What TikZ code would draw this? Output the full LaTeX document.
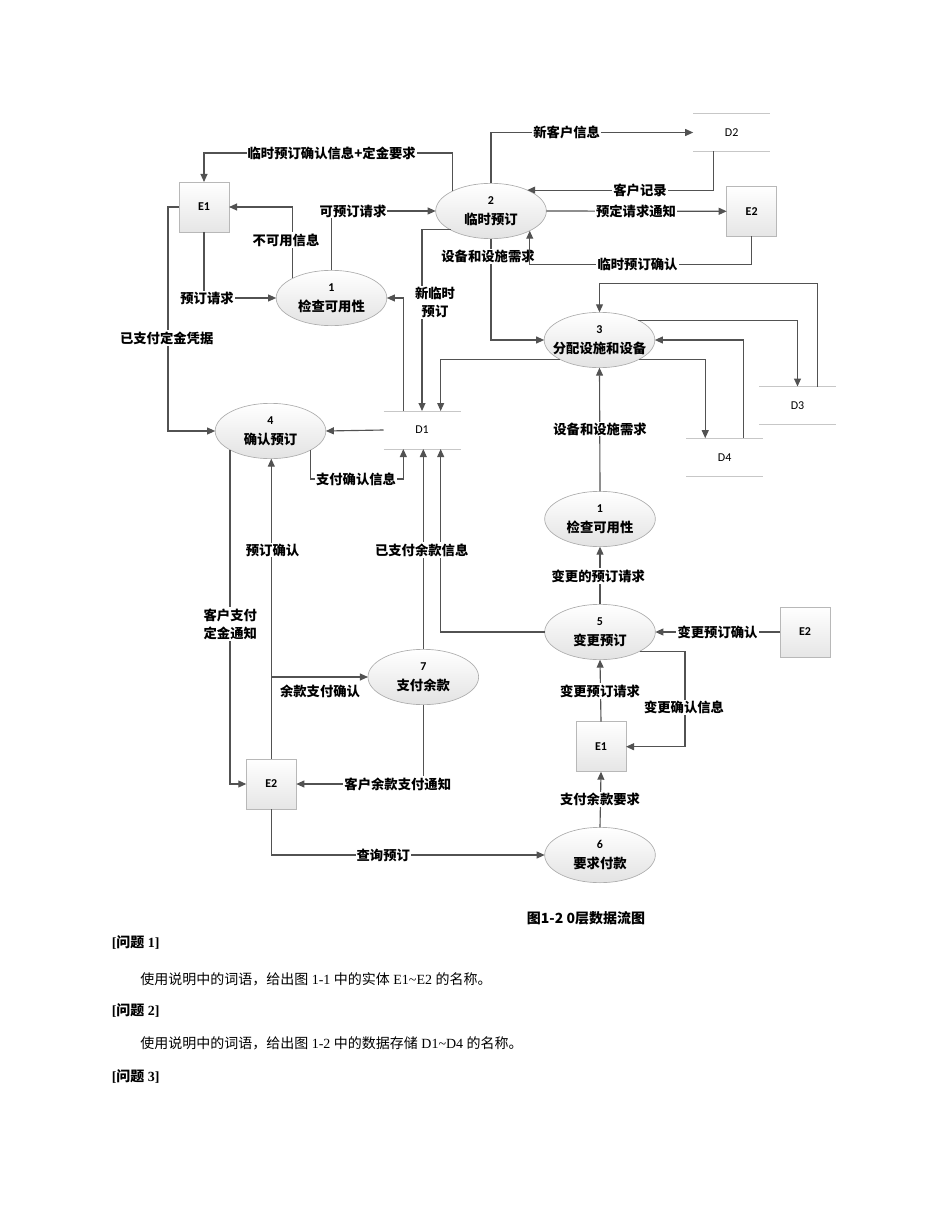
\documentclass[tikz,border=0pt]{standalone}
\usepackage{fontspec}
\setmainfont{Liberation Serif}
\newfontfamily\cjk{Noto Sans CJK SC}
\newfontfamily\calfont{Carlito}
\usetikzlibrary{shapes.geometric,arrows.meta,calc}
\tikzset{
  flow/.style={draw=black!68, line width=0.85pt, -{Triangle[length=6pt,width=5.2pt]}},
  procshape/.style={ellipse, draw=black!32, line width=0.5pt, top color=white, bottom color=black!11,
    minimum width=83pt, minimum height=41.5pt, inner sep=0pt, outer sep=0pt},
  pnum/.style={font=\calfont\bfseries\fontsize{9}{10}\selectfont, inner sep=0pt},
  pname/.style={font=\cjk\bfseries\fontsize{10}{11}\selectfont, inner sep=0pt},
  ent/.style={rectangle, draw=black!28, line width=0.5pt, top color=white, bottom color=black!10,
    minimum width=37.5pt, minimum height=37.5pt, inner sep=0pt, outer sep=0pt,
    font=\calfont\bfseries\fontsize{9}{10}\selectfont},
  storeline/.style={draw=black!22, line width=0.6pt, -},
  store/.style={minimum width=57.75pt, minimum height=28.5pt, inner sep=0pt, outer sep=0pt,
    font=\calfont\fontsize{9}{10}\selectfont,
    append after command={
      (\tikzlastnode.north west) edge[storeline] (\tikzlastnode.north east)
      (\tikzlastnode.south west) edge[storeline] (\tikzlastnode.south east)}},
  lbl/.style={fill=white, inner sep=0.8pt, align=center,
    font=\cjk\bfseries\fontsize{10}{13.6}\selectfont},
  body/.style={anchor=west, inner sep=0pt, font=\fontsize{10.5}{12}\selectfont},
  head/.style={anchor=west, inner sep=0pt, font=\bfseries\fontsize{10.5}{12}\selectfont},
}
\newcommand\proc[4]{%
  \node[procshape] (#1) at (#2) {};
  \node[pnum] at ([yshift=8pt]#1.center) {#3};
  \node[pname] at ([yshift=-6.5pt]#1.center) {#4};}
\begin{document}
\begin{tikzpicture}[x=0.75pt,y=-0.75pt]
\useasboundingbox (0,0) rectangle (950,1230);

% processes
\proc{p2}{491,211}{2}{临时预订}
\proc{p1a}{331.5,298}{1}{检查可用性}
\proc{p3}{599.5,340}{3}{分配设施和设备}
\proc{p4}{270.5,431}{4}{确认预订}
\proc{p1b}{600,519}{1}{检查可用性}
\proc{p5}{600,632}{5}{变更预订}
\proc{p7}{423.3,677}{7}{支付余款}
\proc{p6}{600,855}{6}{要求付款}

% entities
\node[ent] (e1a) at (204,207) {E1};
\node[ent] (e2a) at (751.7,211.3) {E2};
\node[ent] (e1b) at (601,746.7) {E1};
\node[ent] (e2b) at (271.3,784) {E2};
\node[ent] (e2c) at (805,632) {E2};

% data stores
\node[store] (d1) at (422,430) {D1};
\node[store] (d2) at (731.7,132.5) {D2};
\node[store] (d3) at (797.5,405.5) {D3};
\node[store] (d4) at (724.7,457.2) {D4};

% top area
\draw[flow] (p2.153) |- ($(e1a.north)+(0,-29)$) -- (e1a.north);
\node[lbl] at (331.7,153) {临时预订确认信息+定金要求};
\draw[flow] (p2.north) |- (d2.west);
\node[lbl] at (566.7,132) {新客户信息};
\draw[flow] ([xshift=-13.8pt]d2.south) |- (p2.30);
\node[lbl] at (640,190) {客户记录};
\draw[flow] (p2.east) -- (e2a.west);
\node[lbl] at (636,211) {预定请求通知};
\draw[flow] (p2.south) |- (p3.west);
\node[lbl] at (488,256.7) {设备和设施需求};
\draw[flow] (e2a.south) -- ++(0,28) -| (p2.-27);
\node[lbl] at (637.5,264) {临时预订确认};
\draw[flow] (p1a.north) |- (p2.west);
\node[lbl] at (353,211) {可预订请求};
\draw[flow] (p1a.153) |- (e1a.east);
\node[lbl] at (286,240) {不可用信息};
\draw[flow] (e1a.south) |- (p1a.west);
\node[lbl] at (207,298) {预订请求};
\draw[flow] (e1a.west) -- ++(-11,0) |- (p4.west);
\node[lbl] at (166.7,338) {已支付定金凭据};
\draw[flow] ([xshift=-14pt]d1.north) |- (p1a.east);
\draw[flow] (p2.205) -| (d1.north);
\node[lbl] at (435,302.5) {新临时\\预订};
\draw[flow] (p3.206) -| ([xshift=14pt]d1.north);

% right stores
\draw[flow] ([xshift=15pt]d3.north) |- ($(p3.north)+(0,-29)$) -- (p3.north);
\draw[flow] (p3.27) -| (d3.north);
\draw[flow] ([xshift=14pt]d4.north) |- (p3.east);
\draw[flow] (p3.-26) -| ([xshift=-14.6pt]d4.north);

% middle
\draw[flow] (d1.west) -- (p4.east);
\draw[flow] (p4.-26) |- ($([xshift=-14pt]d1.south)+(0,30)$) -- ([xshift=-14pt]d1.south);
\node[lbl] at (356,479) {支付确认信息};
\draw[flow] (p1b.north) -- (p3.south);
\node[lbl] at (600,429) {设备和设施需求};
\draw[flow] (p7.north) -- (p7.north |- d1.south);
\draw[flow] (p5.west) -| ([xshift=14pt]d1.south);
\node[lbl] at (421.7,550) {已支付余款信息};
\draw[flow] (p5.north) -- (p1b.south);
\node[lbl] at (598.3,576) {变更的预订请求};

% lower left
\draw[flow] (p4.205) |- (e2b.west);
\node[lbl] at (230.3,624) {客户支付\\定金通知};
\draw[flow] (e2b.north) -- (e2b.north |- p4.south);
\node[lbl] at (272.5,550) {预订确认};
\draw[flow] (e2b.north |- p7.west) -- (p7.west);
\node[lbl] at (320,691) {余款支付确认};
\draw[flow] (p7.south) |- (e2b.east);
\node[lbl] at (397.8,784) {客户余款支付通知};
\draw[flow] (e2b.south) |- (p6.west);
\node[lbl] at (383.3,855) {查询预订};

% lower right
\draw[flow] (e2c.west) -- (p5.east);
\node[lbl] at (717.5,632) {变更预订确认};
\draw[flow] (e1b.north) -- (p5.south);
\node[lbl] at (600,691) {变更预订请求};
\draw[flow] (p5.-26) -- ($(p5.-26 -| e1b.east)+(59,0)$) |- (e1b.east);
\node[lbl] at (684,707.3) {变更确认信息};
\draw[flow] (p6.north) -- (e1b.south);
\node[lbl] at (600,799.3) {支付余款要求};

% caption and text
\node[inner sep=0pt, font=\cjk\bfseries\fontsize{10.5}{12}\selectfont] (cap) at (586,918) {图1-2 0层数据流图};
\node[head] (q1) at (111.5,942.7) {[{\cjk 问题} 1]};
\node[body] (t1) at (140,979.3) {{\cjk 使用说明中的词语，给出图} 1-1 {\cjk 中的实体} E1\textasciitilde E2 {\cjk 的名称。}};
\node[head] (q2) at (111.5,1010) {[{\cjk 问题} 2]};
\node[body] (t2) at (140,1043.3) {{\cjk 使用说明中的词语，给出图} 1-2 {\cjk 中的数据存储} D1\textasciitilde D4 {\cjk 的名称。}};
\node[head] (q3) at (111.5,1076.7) {[{\cjk 问题} 3]};
\end{tikzpicture}
\end{document}
